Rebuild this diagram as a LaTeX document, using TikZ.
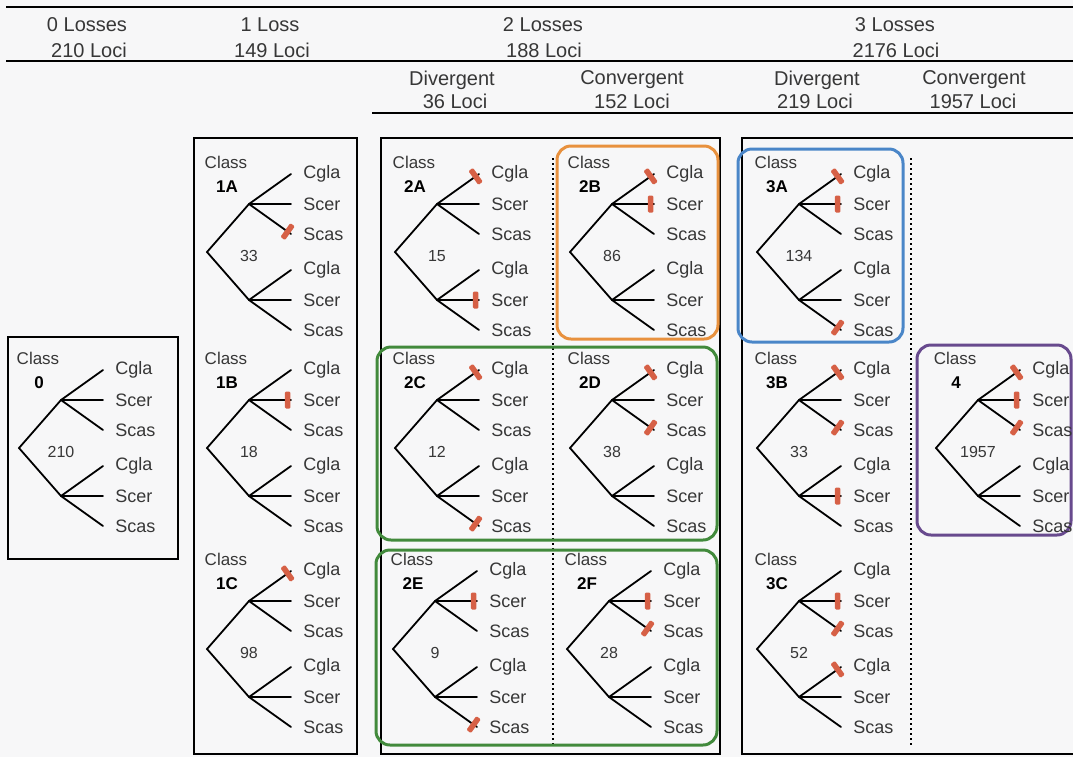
\documentclass[tikz,border=0pt]{standalone}
\usepackage{fontspec}
\setmainfont{Liberation Sans}
\usepackage{tikz}
\usetikzlibrary{positioning, calc}
\definecolor{paper}     {RGB}{247, 247, 248}
\definecolor{inkgray}   {RGB}{ 55,  55,  55}
\definecolor{lossred}   {RGB}{214,  96,  70}
\definecolor{boxorange} {RGB}{232, 145,  62}
\definecolor{boxblue}   {RGB}{ 74, 134, 200}
\definecolor{boxgreen}  {RGB}{ 66, 138,  60}
\definecolor{boxpurple} {RGB}{104,  74, 142}

% #1 name, #2 root, #3 class id, #4 loci
\newcommand{\classtree}[4]{
	\coordinate (#1-r) at (#2);
	\coordinate (#1-u) at ($(#1-r)+(42,-48)$);
	\coordinate (#1-d) at ($(#1-r)+(42,48)$);
	\foreach \k/\dy/\sp in {1/-78/Cgla,2/-48/Scer,3/-18/Scas,4/18/Cgla,5/48/Scer,6/78/Scas}{
		\coordinate (#1-\k) at ($(#1-r)+(84,\dy)$);
		\node[leaflab] (#1-l\k) at ($(#1-\k)+(12,0)$) {\sp};
	}
	\draw[branch] (#1-u) -- (#1-r) -- (#1-d);
	\foreach \k in {1,2,3} \draw[branch] (#1-u) -- (#1-\k);
	\foreach \k in {4,5,6} \draw[branch] (#1-d) -- (#1-\k);
	\node[classlab] (#1-cls) at ($(#1-r)+(19,-90)$) {Class};
	\node[classid] (#1-id) at ($(#1-r)+(20,-65)$) {#3};
	\node[countlab] (#1-n) at ($(#1-r)+(42,4)$) {#4};
}

\begin{document}
\begin{tikzpicture}[x=0.5pt, y=-0.5pt,
	branch/.style={line width=0.9pt, line cap=round},
	leaflab/.style={anchor=west, inner sep=0pt, font=\fontsize{9}{10}\selectfont, text=inkgray},
	classlab/.style={inner sep=0pt, font=\fontsize{8.5}{10}\selectfont, text=inkgray},
	classid/.style={inner sep=0pt, font=\fontsize{8.5}{10}\selectfont\bfseries},
	countlab/.style={inner sep=0pt, font=\fontsize{8}{9}\selectfont, text=inkgray},
	headtext/.style={inner sep=0pt, font=\fontsize{10}{12}\selectfont, text=inkgray},
	headrule/.style={line width=0.9pt},
	panelbox/.style={line width=0.8pt},
	groupbox/.style={line width=1.5pt, rounded corners=7pt},
	divider/.style={line width=1pt, dash pattern=on 1pt off 1.5pt},
	lossbar/.style={fill=lossred, inner sep=0pt, minimum width=2.8pt, minimum height=8.5pt, rounded corners=0.6pt}
]
	\fill[paper] (0,0) rectangle (1073,757);
	\useasboundingbox (0,0) rectangle (1073,757);

	\draw[headrule] (6,7) -- (1073,7);
	\draw[headrule] (6,61) -- (1073,61);
	\draw[headrule] (372,113) -- (1073,113);
	\node[headtext] (loss0) at (87,25) {0 Losses};
	\node[headtext] (loci0) at (89,50) {210 Loci};
	\node[headtext] (loss1) at (270,25) {1 Loss};
	\node[headtext] (loci1) at (272,50) {149 Loci};
	\node[headtext] (loss2) at (543,25) {2 Losses};
	\node[headtext] (loci2) at (544,50) {188 Loci};
	\node[headtext] (loss3) at (895,25) {3 Losses};
	\node[headtext] (loci3) at (896,50) {2176 Loci};
	\node[headtext] (div2) at (452,80) {Divergent};
	\node[headtext] (div2n) at (455,101) {36 Loci};
	\node[headtext] (con2) at (632,80) {Convergent};
	\node[headtext] (con2n) at (632,101) {152 Loci};
	\node[headtext] (div3) at (817,80) {Divergent};
	\node[headtext] (div3n) at (815,101) {219 Loci};
	\node[headtext] (con3) at (974,80) {Convergent};
	\node[headtext] (con3n) at (973,101) {1957 Loci};

	\draw[panelbox] (8,337) rectangle (178,559);
	\draw[panelbox] (194,138) rectangle (357,754);
	\draw[panelbox] (381,138) rectangle (720,754);
	\draw[panelbox] (1073,138) -- (742,138) -- (742,754) -- (1073,754);
	\draw[divider] (553,158) -- (553,748);
	\draw[divider] (911,158) -- (911,748);

	\draw[groupbox, boxorange] (557,146) rectangle (718,339);
	\draw[groupbox, boxblue] (738,149) rectangle (903,342);
	\draw[groupbox, boxgreen] (377,347) rectangle (717,540);
	\draw[groupbox, boxgreen] (376,550) rectangle (717,745);
	\draw[groupbox, boxpurple] (917,345) rectangle (1071,535);

	\classtree{0}{19,448}{0}{210}
	\classtree{1A}{207,252}{1A}{33}
	\classtree{1B}{207,448}{1B}{18}
	\classtree{1C}{207,649}{1C}{98}
	\classtree{2A}{395,252}{2A}{15}
	\classtree{2B}{570,252}{2B}{86}
	\classtree{2C}{395,448}{2C}{12}
	\classtree{2D}{570,448}{2D}{38}
	\classtree{2E}{393,649}{2E}{9}
	\classtree{2F}{567,649}{2F}{28}
	\classtree{3A}{757,252}{3A}{134}
	\classtree{3B}{757,448}{3B}{33}
	\classtree{3C}{757,649}{3C}{52}
	\classtree{4}{936,448}{4}{1957}

	\foreach \t/\p/\k in {1A/u/3, 1B/u/2, 1C/u/1, 2A/u/1, 2A/d/5, 2B/u/1, 2B/u/2,
		2C/u/1, 2C/d/6, 2D/u/1, 2D/u/3, 2E/u/2, 2E/d/6, 2F/u/2, 2F/u/3,
		3A/u/1, 3A/u/2, 3A/d/6, 3B/u/1, 3B/u/3, 3B/d/5, 3C/u/2, 3C/u/3, 3C/d/4,
		4/u/1, 4/u/2, 4/u/3}
		\path (\t-\p) -- (\t-\k) node[lossbar, pos=0.92, sloped] {};
\end{tikzpicture}
\end{document}
